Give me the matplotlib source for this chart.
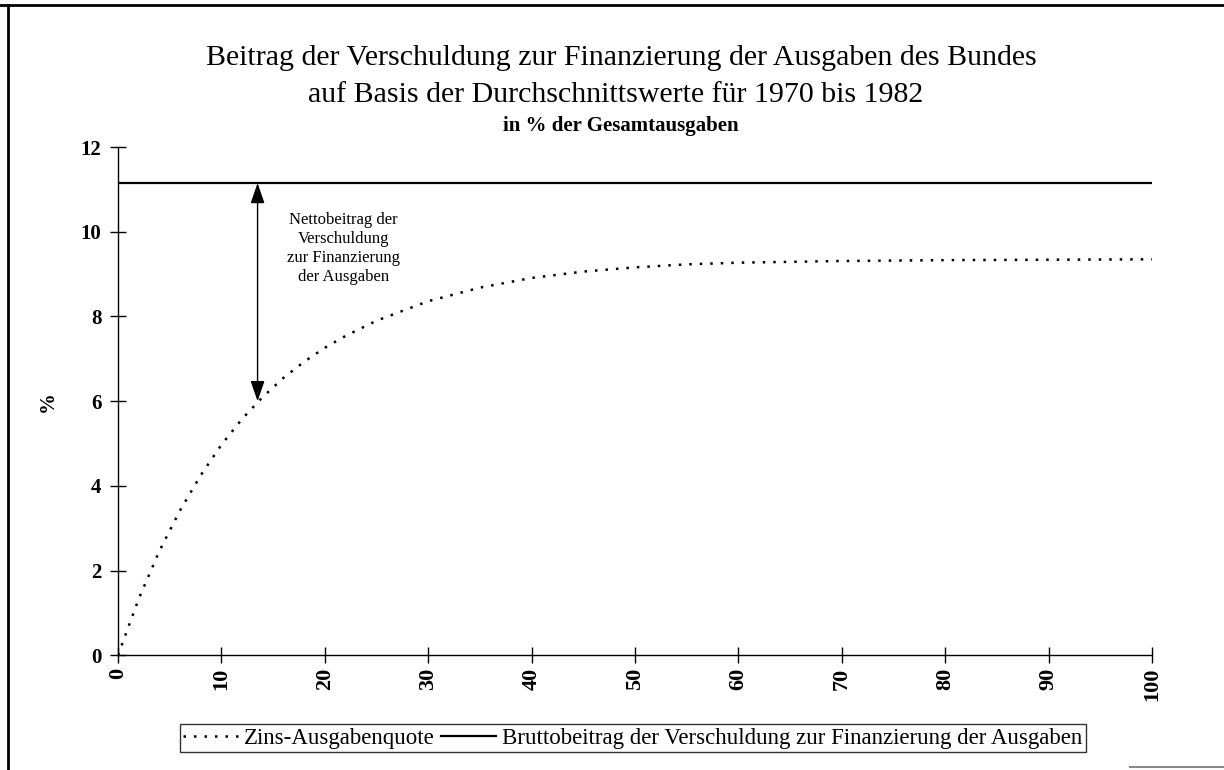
import numpy as np
import matplotlib
matplotlib.use("Agg")
import matplotlib.pyplot as plt
from matplotlib.lines import Line2D

plt.rcParams['font.family'] = ['Liberation Serif', 'DejaVu Serif']

# Werte
jahre = [0, 2, 4, 6, 8, 10, 12, 14, 16, 18, 20, 22, 25, 30, 35, 40, 45, 50, 55, 60, 70, 80, 90, 100]
zins_quote = [0.0, 1.33, 2.46, 3.42, 4.25, 4.97, 5.58, 6.10, 6.55, 6.93, 7.26, 7.54, 7.90,
              8.36, 8.68, 8.91, 9.06, 9.16, 9.23, 9.27, 9.31, 9.33, 9.34, 9.35]
brutto_beitrag = 11.15
pfeil_x = 13.5
pfeil_unten = 6.0
x_ticks = [0, 10, 20, 30, 40, 50, 60, 70, 80, 90, 100]
y_ticks = [0, 2, 4, 6, 8, 10, 12]

fig = plt.figure(figsize=(12.24, 7.7), dpi=100)
ax = fig.add_axes([0.0964, 0.149, 0.8447, 0.66])

dots = (0, (1, 3.2))
ax.plot(jahre, zins_quote, color="black", linestyle=dots, linewidth=1.8)
ax.plot([0, 100], [brutto_beitrag, brutto_beitrag], color="black", linewidth=1.6)

# Doppelpfeil Nettobeitrag
ax.annotate("", xy=(pfeil_x, pfeil_unten), xytext=(pfeil_x, brutto_beitrag),
            arrowprops=dict(arrowstyle="<|-|>,head_length=0.52,head_width=0.18",
                            color="black", lw=1.0, mutation_scale=24,
                            shrinkA=0, shrinkB=0))
ax.text(21.8, 9.6, "Nettobeitrag der\nVerschuldung\nzur Finanzierung\nder Ausgaben",
        ha="center", va="center", fontsize=12, linespacing=1.25)

ax.set_xlim(0, 100)
ax.set_ylim(0, 12)
ax.set_xticks(x_ticks)
ax.set_yticks(y_ticks)
ax.set_xticklabels([str(v) for v in x_ticks], rotation=90, fontsize=16, fontweight="bold")
ax.set_yticklabels([str(v) for v in y_ticks], fontsize=15, fontweight="bold")
ax.tick_params(direction="inout", length=12, width=1.0, pad=6)
ax.tick_params(axis="x", pad=3)
for s in ["top", "right"]:
    ax.spines[s].set_visible(False)
ax.spines["left"].set_linewidth(1.0)
ax.spines["bottom"].set_linewidth(1.0)
ax.set_ylabel("%", fontsize=15, fontweight="bold", labelpad=16)

fig.text(0.508, 0.925, "Beitrag der Verschuldung zur Finanzierung der Ausgaben des Bundes",
         ha="center", va="center", fontsize=21.5)
fig.text(0.503, 0.877, "auf Basis der Durchschnittswerte für 1970 bis 1982",
         ha="center", va="center", fontsize=21.5)
fig.text(0.507, 0.837, "in % der Gesamtausgaben",
         ha="center", va="center", fontsize=15, fontweight="bold")

handles = [Line2D([], [], color="black", linestyle=dots, linewidth=1.8),
           Line2D([], [], color="black", linewidth=1.6)]
leg = fig.legend(handles, ["Zins-Ausgabenquote",
                           "Bruttobeitrag der Verschuldung zur Finanzierung der Ausgaben"],
                 loc="center", bbox_to_anchor=(0.517, 0.0415), ncol=2, fontsize=16.5,
                 frameon=True, fancybox=False, edgecolor="black", handlelength=2.4,
                 handletextpad=0.25, columnspacing=0.3, borderpad=0.15,
                 borderaxespad=0)
leg.get_frame().set_linewidth(1.0)

# Rahmen des Scans
fig.add_artist(Line2D([0.0, 1.0], [0.994, 0.994], color="black", lw=2.0, transform=fig.transFigure))
fig.add_artist(Line2D([0.0065, 0.0065], [0.0, 0.994], color="black", lw=2.0, transform=fig.transFigure))
fig.add_artist(Line2D([0.923, 1.0], [0.004, 0.004], color="#888888", lw=1.5, transform=fig.transFigure))

fig.savefig("out.png", dpi=100)
